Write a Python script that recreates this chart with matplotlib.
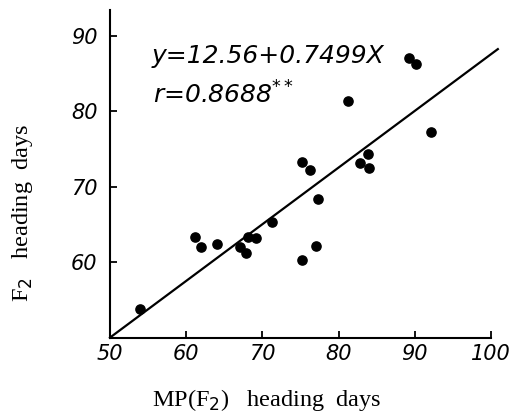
import numpy as np
import matplotlib.pyplot as plt

# MP(F2) heading days vs F2 heading days
mp_days = [54.0, 61.1, 62.0, 64.1, 67.0, 67.9, 68.1, 69.2, 71.3, 75.2, 77.0,
           77.3, 75.2, 76.2, 82.8, 83.8, 84.0, 81.2, 89.2, 90.2, 92.1]
f2_days = [53.9, 63.4, 62.1, 62.4, 62.0, 61.3, 63.4, 63.2, 65.4, 60.3, 62.2,
           68.4, 73.3, 72.2, 73.2, 74.3, 72.5, 81.3, 87.0, 86.2, 77.2]

intercept = 12.56
slope = 0.7499
r_value = 0.8688

x_ticks = [50, 60, 70, 80, 90, 100]
y_ticks = [60, 70, 80, 90]

fig = plt.figure(figsize=(5.18, 4.13), dpi=100)
ax = fig.add_axes([110 / 518, 1 - 338 / 413, (498.6 - 110) / 518, 328 / 413])

ax.scatter(mp_days, f2_days, s=44, color="black", zorder=3)

# regression line
line_x = np.array([50, 100.9])
ax.plot(line_x, intercept + slope * line_x, color="black", lw=1.6, clip_on=False)

ax.set_xlim(50, 101)
ax.set_ylim(50, 93.4)
ax.spines["top"].set_visible(False)
ax.spines["right"].set_visible(False)
ax.spines["bottom"].set_bounds(50, 100)
for s in ["left", "bottom"]:
    ax.spines[s].set_linewidth(1.5)

hand = dict(fontsize=15, fontstyle="italic", family="DejaVu Sans")
ax.set_xticks(x_ticks)
ax.set_xticklabels([str(t) for t in x_ticks], **hand)
ax.set_yticks(y_ticks)
ax.set_yticklabels([str(t) for t in y_ticks], **hand)
ax.tick_params(direction="in", length=5, width=1.3, pad=4)
ax.tick_params(axis="y", pad=9)

ax.set_xlabel("MP(F$_2$)   heading  days", family="Liberation Serif", fontsize=17.5)
ax.set_ylabel("F$_2$   heading  days", family="Liberation Serif", fontsize=17.5)
ax.xaxis.label.set_va("center")
ax.yaxis.label.set_va("center")
ax.xaxis.set_label_coords(0.404, -0.19)
ax.yaxis.set_label_coords(-0.225, 0.381)

ax.text(55.4, 87.3, "y=%.2f+%.4fX" % (intercept, slope), fontsize=18,
        fontstyle="italic", va="center", ha="left")
ax.text(55.6, 82.2, "r=%.4f$^{**}$" % r_value, fontsize=18,
        fontstyle="italic", va="center", ha="left")

plt.savefig("out.png", dpi=100)
